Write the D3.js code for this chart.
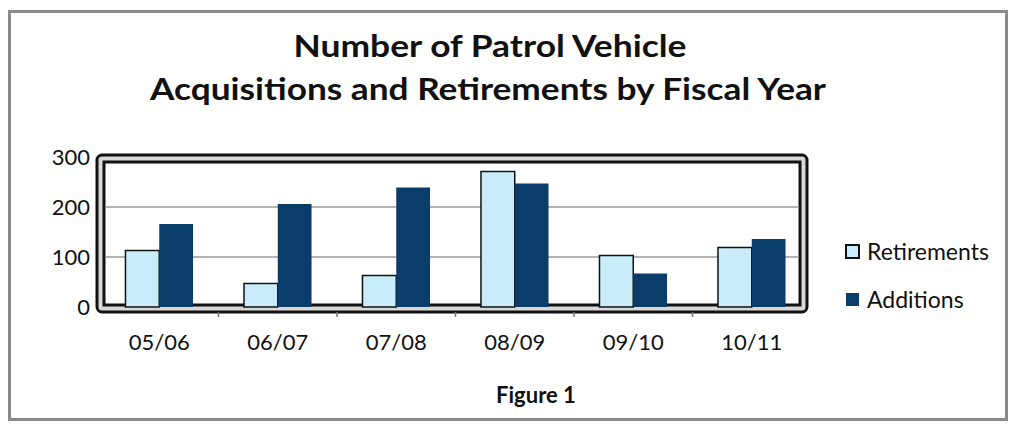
<!DOCTYPE html>
<html>
<head>
<meta charset="utf-8">
<script src="https://cdn.jsdelivr.net/npm/d3@7.9.0/dist/d3.min.js"></script>
<style>
  body { margin: 0; background: #fff; }
  text { font-family: Lato, "Open Sans", sans-serif; fill: #111; }
</style>
</head>
<body>
<svg id="chart" width="1013" height="426"></svg>
<script>
const categories = ["05/06", "06/07", "07/08", "08/09", "09/10", "10/11"];
const retirements = [113, 47, 63, 271, 103, 119];
const additions = [166, 206, 239, 247, 67, 136];
const yTicks = [0, 100, 200, 300];
const seriesNames = ["Retirements", "Additions"];
const colors = { Retirements: "#c9ecfa", Additions: "#0b3d6b" };

const svg = d3.select("#chart");

// outer picture frame
svg.append("rect")
  .attr("x", 9.5).attr("y", 11.5).attr("width", 997).attr("height", 408)
  .attr("fill", "#fff").attr("stroke", "#8a8a8a").attr("stroke-width", 3);

// titles
svg.append("text").attr("x", 490).attr("y", 57).attr("text-anchor", "middle")
  .attr("font-size", 30).attr("font-weight", "bold")
  .attr("textLength", 393).attr("lengthAdjust", "spacingAndGlyphs")
  .text("Number of Patrol Vehicle");
svg.append("text").attr("x", 488).attr("y", 100).attr("text-anchor", "middle")
  .attr("font-size", 30).attr("font-weight", "bold")
  .attr("textLength", 676).attr("lengthAdjust", "spacingAndGlyphs")
  .text("Acquisitions and Retirements by Fiscal Year");
svg.append("text").attr("x", 536).attr("y", 403).attr("text-anchor", "middle")
  .attr("font-size", 22).attr("font-weight", "bold")
  .text("Figure 1");

const x = d3.scaleBand().domain(categories).range([100, 811]).paddingInner(0.43).paddingOuter(0.215);
const xs = d3.scaleBand().domain(seriesNames).range([0, x.bandwidth()]);
const y = d3.scaleLinear().domain([0, 300]).range([307, 157]);

// plot frame (3-D walls look)
svg.append("rect")
  .attr("x", 97).attr("y", 155).attr("width", 710).attr("height", 157).attr("rx", 5)
  .attr("fill", "#d8d8d8").attr("stroke", "#111").attr("stroke-width", 3);
svg.append("rect")
  .attr("x", 104).attr("y", 162).attr("width", 696).attr("height", 143)
  .attr("fill", "#fff").attr("stroke", "#111").attr("stroke-width", 3);

// gridlines
svg.append("g").selectAll("line").data(yTicks.filter(d => d > 0 && d < 300)).join("line")
  .attr("x1", 105).attr("x2", 799)
  .attr("y1", d => y(d)).attr("y2", d => y(d))
  .attr("stroke", "#9a9a9a").attr("stroke-width", 1.5);

// y axis labels
svg.append("g").selectAll("text").data(yTicks).join("text")
  .attr("x", 90).attr("y", d => y(d) + 8).attr("text-anchor", "end")
  .attr("font-size", 22).text(d => d);

// x axis ticks & labels
const xAxis = d3.axisBottom(x).tickSize(0).tickPadding(22);
const gx = svg.append("g").attr("transform", "translate(0,312)").call(xAxis);
gx.select(".domain").remove();
gx.selectAll("text").attr("font-size", 22).attr("fill", "#111")
  .style("font-family", "Lato, 'Open Sans', sans-serif");
const step = x.step();
svg.append("g").selectAll("line").data(d3.range(1, categories.length)).join("line")
  .attr("x1", i => 100 + i * step).attr("x2", i => 100 + i * step)
  .attr("y1", 312).attr("y2", 317).attr("stroke", "#777").attr("stroke-width", 1.5);

// bars
const rows = categories.map((c, i) => ({ cat: c, Retirements: retirements[i], Additions: additions[i] }));
const groups = svg.append("g").selectAll("g").data(rows).join("g")
  .attr("transform", d => `translate(${x(d.cat)},0)`);
groups.selectAll("rect").data(d => seriesNames.map(k => ({ key: k, value: d[k] }))).join("rect")
  .attr("x", d => xs(d.key))
  .attr("y", d => y(d.value))
  .attr("width", xs.bandwidth())
  .attr("height", d => y(0) - y(d.value))
  .attr("fill", d => colors[d.key])
  .attr("stroke", d => d.key === "Retirements" ? "#111" : "none")
  .attr("stroke-width", 1.5);

// legend
const legend = svg.append("g").selectAll("g").data(seriesNames).join("g")
  .attr("transform", (d, i) => `translate(846,${245 + i * 48})`);
legend.append("rect").attr("width", 13).attr("height", 13)
  .attr("fill", d => colors[d])
  .attr("stroke", d => d === "Retirements" ? "#111" : "none").attr("stroke-width", 2);
legend.append("text").attr("x", 21).attr("y", 15).attr("font-size", 23).text(d => d);
</script>
</body>
</html>
